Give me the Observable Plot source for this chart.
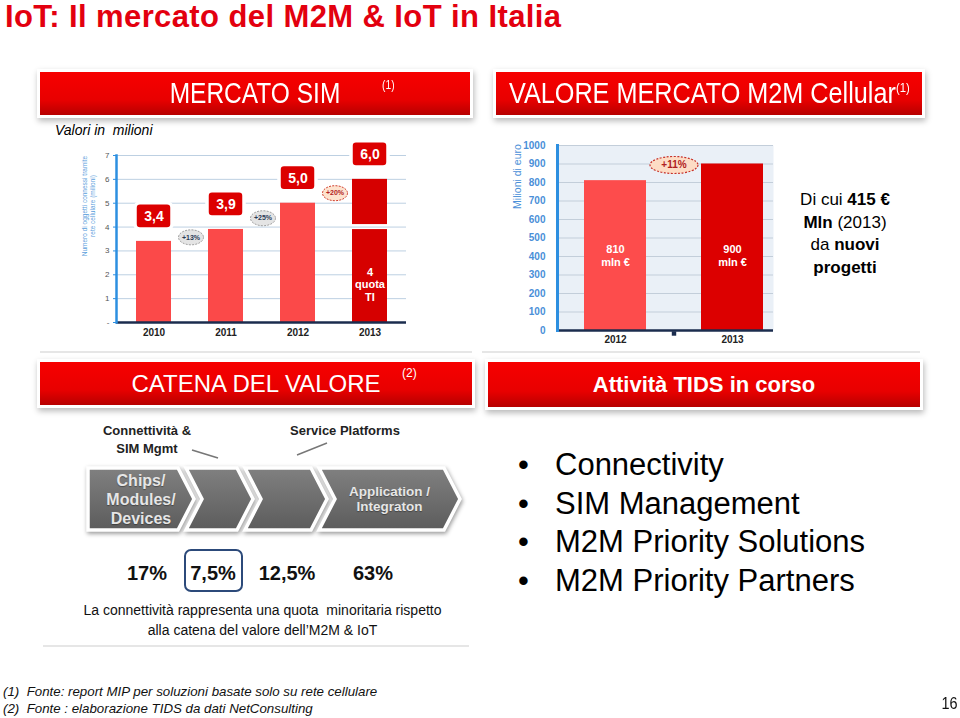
<!DOCTYPE html>
<html>
<head>
<meta charset="utf-8">
<script src="https://cdn.jsdelivr.net/npm/d3@7"></script>
<script src="https://cdn.jsdelivr.net/npm/@observablehq/plot@0.6"></script>
<style>
  body { margin: 0; background: #fff; }
  #page { position: relative; width: 960px; height: 718px; overflow: hidden; background: #fff;
          font-family: "Liberation Sans", Arial, sans-serif; color: #000; }
  .abs { position: absolute; }
  .cond { display: inline-block; transform: scaleX(0.845); transform-origin: center; white-space: nowrap; }
  .hbox { position: absolute; height: 43px; color: #fff; display: flex; align-items: center; justify-content: center;
          background: linear-gradient(#f70000, #e80000 65%, #b70000);
          box-shadow: 0 0 0 3px #fff, 1px 3px 6px 3px rgba(0,0,0,0.28); }
  .sep { position: absolute; height: 2px; background: #e6e6e6; }
  g[aria-label="callout"] rect { filter: drop-shadow(1px 2px 2px rgba(0,0,0,0.45)); }
</style>
</head>
<body>
<div id="page"></div>
<script>
// ---------------- DATA ----------------
const years = ["2010", "2011", "2012", "2013"];
const simValues = [3.4, 3.9, 5.0, 6.0];              // SIM M2M (milioni)
const simLabels = ["3,4", "3,9", "5,0", "6,0"];
const quotaTI = 4;                                   // quota TI nel 2013
const simGrowth = ["+13%", "+25%", "+20%"];
const simTicks = [0, 1, 2, 3, 4, 5, 6, 7];

const m2mYears = ["2012", "2013"];
const m2mValues = [810, 900];                         // milioni di euro
const m2mGrowth = "+11%";
const m2mTicks = [0, 100, 200, 300, 400, 500, 600, 700, 800, 900, 1000];

const chainStages = ["Chips/\nModules/\nDevices", "", "", "Application /\nIntegraton"];
const chainShares = ["17%", "7,5%", "12,5%", "63%"];
const chainGroups = ["Connettività &\nSIM Mgmt", "Service Platforms"];
const tidsActivities = ["Connectivity", "SIM Management", "M2M Priority Solutions", "M2M Priority Partners"];
const footnotes = ["(1)  Fonte: report MIP per soluzioni basate solo su rete cellulare",
                   "(2)  Fonte : elaborazione TIDS da dati NetConsulting"];

// ---------------- HELPERS ----------------
const page = document.getElementById("page");
function add(html, style, cls) {
  const d = document.createElement("div");
  d.className = "abs" + (cls ? " " + cls : "");
  d.innerHTML = html;
  Object.assign(d.style, style);
  page.appendChild(d);
  return d;
}
const ellipse = (rx, ry) => ({
  draw(ctx) {
    const k = 0.5523;
    ctx.moveTo(rx, 0);
    ctx.bezierCurveTo(rx, ry * k, rx * k, ry, 0, ry);
    ctx.bezierCurveTo(-rx * k, ry, -rx, ry * k, -rx, 0);
    ctx.bezierCurveTo(-rx, -ry * k, -rx * k, -ry, 0, -ry);
    ctx.bezierCurveTo(rx * k, -ry, rx, -ry * k, rx, 0);
    ctx.closePath();
  }
});
const plotStyle = { fontFamily: "'Liberation Sans', Arial, sans-serif", background: "transparent", overflow: "visible" };

// ---------------- TITLE & HEADERS ----------------
add("IoT: Il mercato del M2M &amp; IoT in Italia",
    { left: "5px", top: "0px", fontSize: "31px", lineHeight: "34px", letterSpacing: "0.4px", fontWeight: "bold",
      color: "#e3000f", whiteSpace: "nowrap" });

add(`<span class="cond" style="font-size:29px">MERCATO SIM</span><span style="position:absolute;left:341px;top:6px;font-size:12px;transform:scaleX(0.85)">(1)</span>`,
    { left: "40px", top: "72px", width: "430px" }, "hbox");
add(`<span class="cond" style="font-size:29px;transform:scaleX(0.87)">VALORE MERCATO M2M Cellular<span style="font-size:13px;position:relative;top:-11px">(1)</span></span>`,
    { left: "496px", top: "72px", width: "426px" }, "hbox");

add("Valori in  milioni", { left: "55px", top: "122px", fontSize: "14px", lineHeight: "16px", fontStyle: "italic", whiteSpace: "pre" });

// ---------------- SIM CHART ----------------
const simData = years.map((year, i) => ({ year, value: simValues[i], label: simLabels[i] }));
const simRegular = simData.filter(d => d.year !== "2013");
const sim2013 = simData.filter(d => d.year === "2013");
const simGrowthData = simGrowth.map((label, i) => ({
  from: years[i], y: (simValues[i] + simValues[i + 1]) / 2 - 0.08, label, hot: i === simGrowth.length - 1
}));

const simPlot = Plot.plot({
  width: 346, height: 209,
  marginLeft: 56, marginRight: 0, marginTop: 20, marginBottom: 22,
  style: plotStyle,
  x: { domain: years, paddingInner: 0.52, paddingOuter: 0.27, label: null },
  y: { domain: [0, 7], label: null },
  marks: [
    Plot.gridY(simTicks.slice(1), { stroke: "#bdd0e2", strokeOpacity: 1 }),
    Plot.axisY(simTicks, { tickSize: 3, tickPadding: 4, fontSize: 8, fill: "#555", stroke: "#2d8fe0",
                           tickFormat: d => d === 0 ? "-" : String(d) }),
    Plot.axisX({ tickSize: 0, tickPadding: 6, fontSize: 10, fontWeight: "bold", fill: "#222" }),
    Plot.barY(simRegular, { x: "year", y: "value", fill: "#fb4949" }),
    Plot.barY(sim2013, { x: "year", y1: 0, y2: quotaTI, fill: "#d60000", insetTop: 2.5 }),
    Plot.barY(sim2013, { x: "year", y1: quotaTI, y2: "value", fill: "#d60000", insetBottom: 2.5 }),
    Plot.text(sim2013, { x: "year", y: quotaTI * 0.4, text: () => `${quotaTI}\nquota\nTI`,
                         fill: "#fff", fontWeight: "bold", fontSize: 11, lineHeight: 1.15 }),
    Plot.ruleY([0], { stroke: "#1b2c4e", strokeWidth: 2.5 }),
    Plot.frame({ anchor: "left", stroke: "#2d8fe0", strokeWidth: 2.5 }),
    Plot.barY(simData, { x: "year", y1: d => d.value + 0.5, y2: d => d.value + 1.6, rx: 5, insetLeft: -1, insetRight: -1,
                         fill: "#dc0000", stroke: "#fff", strokeWidth: 3.5, ariaLabel: "callout" }),
    Plot.text(simData, { x: "year", y: d => d.value + 1.05, text: "label", fill: "#fff", fontWeight: "bold", fontSize: 14 }),
    Plot.dot(simGrowthData, { x: "from", y: "y", dx: 37, symbol: ellipse(12.5, 7.5),
                              fill: d => d.hot ? "#fde3cf" : "#e4e4e4", stroke: d => d.hot ? "#d2402f" : "#a0a0a0",
                              strokeWidth: 1, strokeDasharray: "2,1.2" }),
    Plot.text(simGrowthData, { x: "from", y: "y", dx: 37, text: "label", fontSize: 7, fontWeight: "bold",
                               fill: d => d.hot ? "#b22222" : "#2b3a55" }),
    Plot.text([0], { frameAnchor: "left", rotate: -90, dx: -28, dy: -33, textAnchor: "middle", lineHeight: 1.25,
                     text: () => "Numero di oggetti connessi tramite\nrete cellulare (milioni)", fontSize: 6.5, fill: "#5ba0dc" })
  ]
});
simPlot.style.position = "absolute";
simPlot.style.left = "60px";
simPlot.style.top = "135px";
page.appendChild(simPlot);

// ---------------- M2M VALUE CHART ----------------
const m2mData = m2mYears.map((year, i) => ({ year, value: m2mValues[i], label: `${m2mValues[i]}\nmln €` }));
const m2mPeak = [{ year: m2mYears[0], value: d3.max(m2mValues), label: m2mGrowth }];

const m2mPlot = Plot.plot({
  width: 290, height: 215,
  marginLeft: 67, marginRight: 7, marginTop: 10, marginBottom: 20,
  style: plotStyle,
  x: { domain: m2mYears, paddingInner: 0.47, paddingOuter: 0.158, align: 0.73, label: null },
  y: { domain: [0, 1000], label: null },
  marks: [
    Plot.frame({ fill: "#eaf0f7" }),
    Plot.gridY(m2mTicks.slice(1), { stroke: "#c3ceda", strokeOpacity: 1 }),
    Plot.axisY(m2mTicks, { tickSize: 0, tickPadding: 12, fontSize: 10, fontWeight: "bold", fill: "#4a8fd8",
                           tickFormat: d => String(d) }),
    Plot.axisX({ tickSize: 0, tickPadding: 5, fontSize: 10, fontWeight: "bold", fill: "#222" }),
    Plot.barY(m2mData, { x: "year", y: "value", fill: d => d.year === "2013" ? "#dc0000" : "#fd4c4c" }),
    Plot.text(m2mData, { x: "year", frameAnchor: "middle", dy: 17.5, text: "label", fill: "#fff",
                         fontWeight: "bold", fontSize: 11, lineHeight: 1.2 }),
    Plot.ruleY([0], { stroke: "#1b2c4e", strokeWidth: 2.5 }),
    Plot.dot(m2mPeak, { x: "year", y: 0, dx: 58.5, dy: 3, symbol: "square", r: 2.5, fill: "#1b2c4e" }),
    Plot.frame({ anchor: "left", stroke: "#2d8fe0", strokeWidth: 3 }),
    Plot.dot(m2mPeak, { x: "year", y: "value", dx: 58.5, dy: 1, symbol: ellipse(24, 8.5),
                        fill: "#fddcc5", stroke: "#c8322a", strokeWidth: 1.2, strokeDasharray: "2,1.5" }),
    Plot.text(m2mPeak, { x: "year", y: "value", dx: 58.5, dy: 1, text: "label", fill: "#b02020", fontWeight: "bold", fontSize: 10 }),
    Plot.text([0], { frameAnchor: "top-left", dx: -44, dy: 31, rotate: -90, textAnchor: "middle",
                     text: () => "Milioni di euro", fill: "#4a8fd8", fontSize: 10.5 })
  ]
});
m2mPlot.style.position = "absolute";
m2mPlot.style.left = "490px";
m2mPlot.style.top = "135px";
page.appendChild(m2mPlot);

add(`Di cui <b>415 €</b><br><b>Mln</b> (2013)<br>da <b>nuovi</b><br><b>progetti</b>`,
    { left: "770px", top: "189px", width: "150px", textAlign: "center", fontSize: "17px", lineHeight: "22.5px" });

// ---------------- SEPARATORS ----------------
add("", { left: "40px", top: "351px", width: "432px" }, "sep");
add("", { left: "482px", top: "351px", width: "438px" }, "sep");
add("", { left: "43px", top: "645px", width: "426px" }, "sep");

// ---------------- SECTION HEADERS ----------------
add(`<span style="font-size:24px">CATENA DEL VALORE</span><span style="position:absolute;left:362px;top:4px;font-size:12px">(2)</span>`,
    { left: "40px", top: "362px", width: "432px" }, "hbox");
add(`<span style="font-size:22px;font-weight:bold">Attività TIDS in corso</span>`,
    { left: "488px", top: "362px", width: "432px", height: "45px" }, "hbox");

// ---------------- VALUE CHAIN DIAGRAM ----------------
const chevTop = 468, chevBot = 530, chevMid = (chevTop + chevBot) / 2, depth = 16;
const bodyWidths = [90, 51, 66, 125], gap = 8;
let xCursor = 88;
const chevrons = bodyWidths.map((w, i) => {
  const L = xCursor, R = L + w;
  xCursor = R + gap;
  const pts = i === 0
    ? [[L, chevTop], [R, chevTop], [R + depth, chevMid], [R, chevBot], [L, chevBot]]
    : [[L, chevTop], [R, chevTop], [R + depth, chevMid], [R, chevBot], [L, chevBot], [L + depth, chevMid]];
  return { L, R, pts, label: chainStages[i] };
});

const svg = d3.create("svg").attr("width", 960).attr("height", 718)
  .style("position", "absolute").style("left", "0px").style("top", "0px");
const defs = svg.append("defs");
const grad = defs.append("linearGradient").attr("id", "chevGrad").attr("x1", 0).attr("y1", 0).attr("x2", 0).attr("y2", 1);
grad.append("stop").attr("offset", "0%").attr("stop-color", "#808080");
grad.append("stop").attr("offset", "100%").attr("stop-color", "#5c5c5c");
svg.append("g").style("filter", "drop-shadow(1px 2px 2px rgba(0,0,0,0.4))")
  .selectAll("polygon").data(chevrons).join("polygon")
  .attr("points", d => d.pts.map(p => p.join(",")).join(" "))
  .attr("fill", "url(#chevGrad)").attr("stroke", "#fff").attr("stroke-width", 3.5).attr("stroke-linejoin", "miter");
svg.append("line").attr("x1", 192).attr("y1", 450).attr("x2", 218).attr("y2", 458).attr("stroke", "#777").attr("stroke-width", 1.5);
svg.append("line").attr("x1", 297).attr("y1", 455).attr("x2", 327).attr("y2", 443).attr("stroke", "#777").attr("stroke-width", 1.5);
page.appendChild(svg.node());

chevrons.forEach((c, i) => {
  if (!c.label) return;
  const cx = (c.L + c.R + depth) / 2;
  const big = i === 0;
  add(c.label.replace(/\n/g, "<br>"), {
    left: (cx - 70) + "px", width: "140px", top: chevTop + "px", height: (chevBot - chevTop) + "px",
    display: "flex", alignItems: "center", justifyContent: "center", textAlign: "center",
    fontWeight: "bold", color: "#e6e6e6", fontSize: big ? "16px" : "13.5px", lineHeight: big ? "19px" : "15.5px",
    textShadow: "0 1px 1px rgba(0,0,0,0.35)"
  });
});

add(chainGroups[0].replace(/\n/g, "<br>"), { left: "67px", width: "160px", top: "422px", textAlign: "center",
    fontSize: "13px", lineHeight: "18px", fontWeight: "bold", color: "#222" });
add(chainGroups[1], { left: "265px", width: "160px", top: "422px", textAlign: "center",
    fontSize: "13px", lineHeight: "18px", fontWeight: "bold", color: "#222" });

const shareCenters = [147, 213, 287, 373];
chainShares.forEach((s, i) => {
  add(s, { left: (shareCenters[i] - 40) + "px", width: "80px", top: "561px", textAlign: "center",
           fontSize: "20px", lineHeight: "24px", fontWeight: "bold", color: "#111" });
});
add("", { left: "184px", top: "549px", width: "59px", height: "43px", border: "2px solid #2c4a7a",
          borderRadius: "7px", boxSizing: "border-box" });

add("La connettività rappresenta una quota  minoritaria rispetto\nalla catena del valore dell’M2M &amp; IoT",
    { left: "40px", width: "445px", top: "600px", textAlign: "center", fontSize: "14px", lineHeight: "20px",
      whiteSpace: "pre", color: "#111" });

// ---------------- TIDS ACTIVITIES ----------------
tidsActivities.forEach((t, i) => {
  add(`<span style="display:inline-block;width:37px">•</span>${t}`,
      { left: "518px", top: (445 + i * 38.7) + "px", fontSize: "31px", lineHeight: "39px", whiteSpace: "nowrap", color: "#000" });
});

// ---------------- FOOTER ----------------
add(footnotes.join("\n"), { left: "3px", top: "683px", fontSize: "13.3px", lineHeight: "17px", fontStyle: "italic",
    whiteSpace: "pre", color: "#111" });
add(`<span style="display:inline-block;transform:scaleX(0.85)">16</span>`,
    { left: "940px", top: "694px", fontSize: "17px", lineHeight: "20px", color: "#111" });
</script>
</body>
</html>
